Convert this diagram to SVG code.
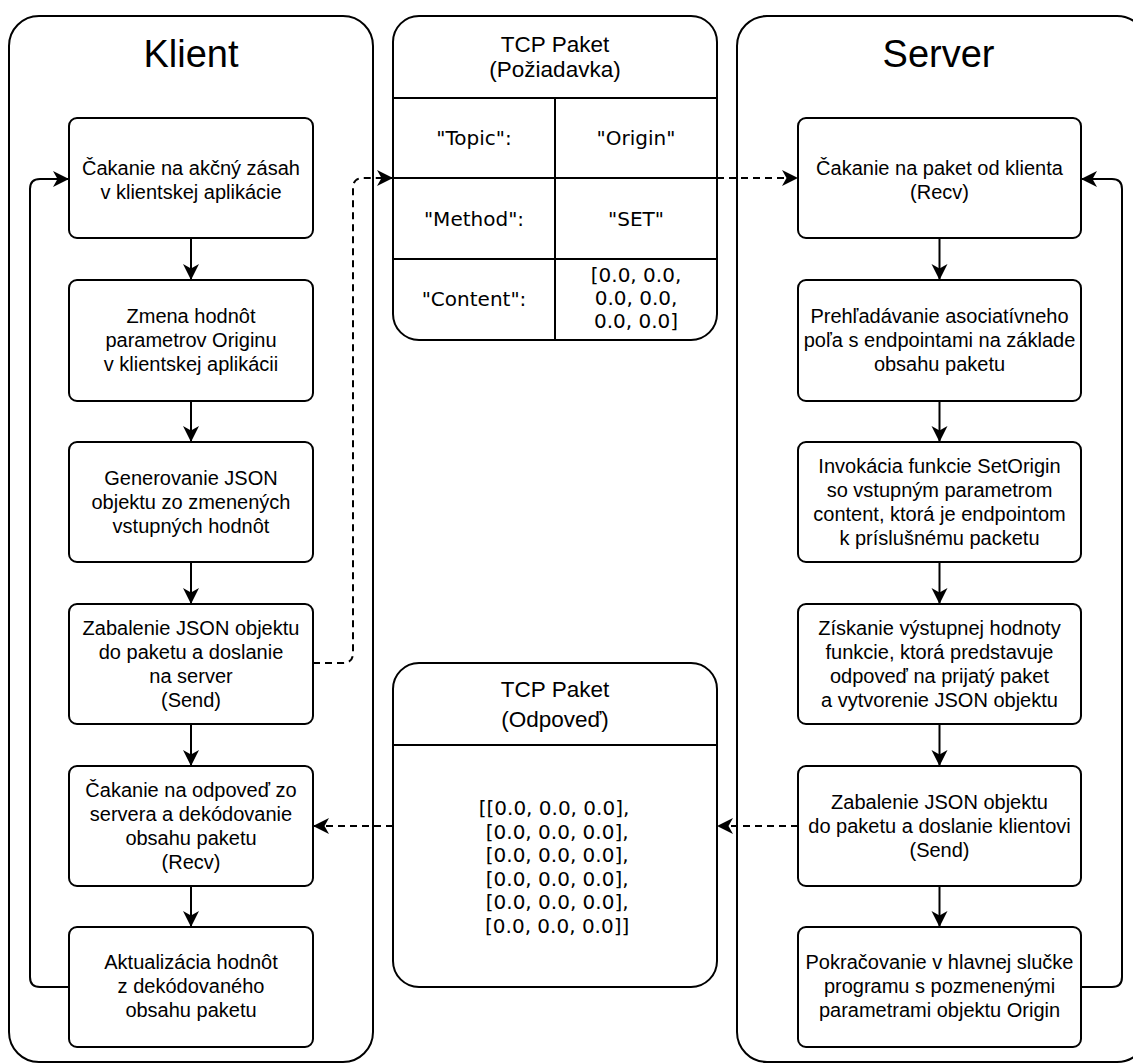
<svg xmlns="http://www.w3.org/2000/svg" width="1133" height="1064" viewBox="0 0 1133 1064">
<style>
  .cont { fill: #ffffff; stroke: #000000; stroke-width: 2; }
  .node { fill: #ffffff; stroke: #000000; stroke-width: 2; }
  .line { fill: none; stroke: #000000; stroke-width: 2; }
  .edge { fill: none; stroke: #000000; stroke-width: 2; marker-end: url(#arrow); }
  .dash { stroke-dasharray: 7 5; }
  .t { font-family: "Liberation Sans", Arial, Helvetica, sans-serif; font-size: 20px; fill: #000000; text-anchor: middle; }
  .title { font-family: "Liberation Sans", Arial, Helvetica, sans-serif; font-size: 38px; fill: #000000; text-anchor: middle; }
  .hdr { font-family: "Liberation Sans", Arial, Helvetica, sans-serif; font-size: 22.5px; fill: #000000; text-anchor: middle; }
  .c { font-family: "DejaVu Sans", Verdana, sans-serif; font-size: 20px; fill: #000000; text-anchor: middle; white-space: pre; }
</style>
<defs>
  <marker id="arrow" markerUnits="userSpaceOnUse" markerWidth="17" markerHeight="17" refX="16" refY="8" orient="auto">
    <path d="M0,0 L16,8 L0,16 L4.5,8 Z" fill="#000000" stroke="none"/>
  </marker>
</defs>
<rect width="1133" height="1064" fill="#ffffff"/>

<g id="klient">
  <rect class="cont" x="9" y="16" width="364" height="1046" rx="30" ry="30"/>
  <text class="title" x="191" y="67">Klient</text>
</g>
<g id="server">
  <rect class="cont" x="737" y="16" width="410" height="1046" rx="30" ry="30"/>
  <text class="title" x="938.5" y="67">Server</text>
</g>

<g id="connectors">
  <path class="edge" d="M191,238 L191,280"/>
  <path class="edge" d="M191,401 L191,442"/>
  <path class="edge" d="M191,562 L191,604"/>
  <path class="edge" d="M191,724 L191,766"/>
  <path class="edge" d="M191,886 L191,927"/>
  <path class="edge" d="M69,987 L40,987 Q30,987 30,977 L30,189 Q30,179 40,179 L69,179"/>
  <path class="edge" d="M939.5,238 L939.5,280"/>
  <path class="edge" d="M939.5,401 L939.5,442"/>
  <path class="edge" d="M939.5,562 L939.5,604"/>
  <path class="edge" d="M939.5,724 L939.5,766"/>
  <path class="edge" d="M939.5,886 L939.5,927"/>
  <path class="edge" d="M1081,987 L1112,987 Q1122,987 1122,977 L1122,189 Q1122,179 1112,179 L1081,179"/>
  <path class="edge dash" d="M313,663 L343,663 Q353,663 353,653 L353,188 Q353,178 363,178 L393,178"/>
  <path class="edge dash" d="M717,178 L798,178"/>
  <path class="edge dash" d="M798,826 L717,826"/>
  <path class="edge dash" d="M393,826 L313,826"/>
</g>

<g id="k1">
  <rect class="node" x="69" y="118" width="244" height="120" rx="8" ry="8"/>
  <text class="t" x="191" y="175">Čakanie na akčný zásah</text>
  <text class="t" x="191" y="199">v klientskej aplikácie</text>
</g>
<g id="k2">
  <rect class="node" x="69" y="280" width="244" height="121" rx="8" ry="8"/>
  <text class="t" x="191" y="323">Zmena hodnôt</text>
  <text class="t" x="191" y="347">parametrov Originu</text>
  <text class="t" x="191" y="371">v klientskej aplikácii</text>
</g>
<g id="k3">
  <rect class="node" x="69" y="442" width="244" height="120" rx="8" ry="8"/>
  <text class="t" x="191" y="485">Generovanie JSON</text>
  <text class="t" x="191" y="509">objektu zo zmenených</text>
  <text class="t" x="191" y="533">vstupných hodnôt</text>
</g>
<g id="k4">
  <rect class="node" x="69" y="604" width="244" height="120" rx="8" ry="8"/>
  <text class="t" x="191" y="635">Zabalenie JSON objektu</text>
  <text class="t" x="191" y="659">do paketu a doslanie</text>
  <text class="t" x="191" y="683">na server</text>
  <text class="t" x="191" y="707">(Send)</text>
</g>
<g id="k5">
  <rect class="node" x="69" y="766" width="244" height="120" rx="8" ry="8"/>
  <text class="t" x="191" y="797">Čakanie na odpoveď zo</text>
  <text class="t" x="191" y="821">servera a dekódovanie</text>
  <text class="t" x="191" y="845">obsahu paketu</text>
  <text class="t" x="191" y="869">(Recv)</text>
</g>
<g id="k6">
  <rect class="node" x="69" y="927" width="244" height="120" rx="8" ry="8"/>
  <text class="t" x="191" y="969">Aktualizácia hodnôt</text>
  <text class="t" x="191" y="993">z dekódovaného</text>
  <text class="t" x="191" y="1017">obsahu paketu</text>
</g>

<g id="s1">
  <rect class="node" x="798" y="118" width="283" height="120" rx="8" ry="8"/>
  <text class="t" x="939.5" y="175">Čakanie na paket od klienta</text>
  <text class="t" x="939.5" y="199">(Recv)</text>
</g>
<g id="s2">
  <rect class="node" x="798" y="280" width="283" height="121" rx="8" ry="8"/>
  <text class="t" x="939.5" y="323">Prehľadávanie asociatívneho</text>
  <text class="t" x="939.5" y="347">poľa s endpointami na základe</text>
  <text class="t" x="939.5" y="371">obsahu paketu</text>
</g>
<g id="s3">
  <rect class="node" x="798" y="442" width="283" height="120" rx="8" ry="8"/>
  <text class="t" x="939.5" y="473">Invokácia funkcie SetOrigin</text>
  <text class="t" x="939.5" y="497">so vstupným parametrom</text>
  <text class="t" x="939.5" y="521">content, ktorá je endpointom</text>
  <text class="t" x="939.5" y="545">k príslušnému packetu</text>
</g>
<g id="s4">
  <rect class="node" x="798" y="604" width="283" height="120" rx="8" ry="8"/>
  <text class="t" x="939.5" y="635">Získanie výstupnej hodnoty</text>
  <text class="t" x="939.5" y="659">funkcie, ktorá predstavuje</text>
  <text class="t" x="939.5" y="683">odpoveď na prijatý paket</text>
  <text class="t" x="939.5" y="707">a vytvorenie JSON objektu</text>
</g>
<g id="s5">
  <rect class="node" x="798" y="766" width="283" height="120" rx="8" ry="8"/>
  <text class="t" x="939.5" y="809">Zabalenie JSON objektu</text>
  <text class="t" x="939.5" y="833">do paketu a doslanie klientovi</text>
  <text class="t" x="939.5" y="857">(Send)</text>
</g>
<g id="s6">
  <rect class="node" x="798" y="927" width="283" height="120" rx="8" ry="8"/>
  <text class="t" x="939.5" y="969">Pokračovanie v hlavnej slučke</text>
  <text class="t" x="939.5" y="993">programu s pozmenenými</text>
  <text class="t" x="939.5" y="1017">parametrami objektu Origin</text>
</g>

<g id="tcp-poziadavka">
  <rect class="node" x="393" y="16" width="324" height="324" rx="26" ry="26"/>
  <path class="line" d="M393,98 L717,98 M393,178 L717,178 M393,259 L717,259 M555,98 L555,340"/>
  <text class="hdr" x="555" y="52">TCP Paket</text>
  <text class="hdr" x="555" y="77">(Požiadavka)</text>
  <text class="c" x="474" y="145">"Topic":</text>
  <text class="c" x="636" y="145">"Origin"</text>
  <text class="c" x="474" y="226">"Method":</text>
  <text class="c" x="636" y="226">"SET"</text>
  <text class="c" x="474" y="306">"Content":</text>
  <text class="c" x="636" y="282">[0.0, 0.0,</text>
  <text class="c" x="636" y="305">0.0, 0.0,</text>
  <text class="c" x="636" y="328">0.0, 0.0]</text>
</g>

<g id="tcp-odpoved">
  <rect class="node" x="393" y="663" width="324" height="324" rx="26" ry="26"/>
  <path class="line" d="M393,745 L717,745"/>
  <text class="hdr" x="555" y="697">TCP Paket</text>
  <text class="hdr" x="555" y="727">(Odpoveď)</text>
  <text class="c" x="554" y="815" xml:space="preserve">[[0.0, 0.0, 0.0],</text>
  <text class="c" x="554" y="838.6" xml:space="preserve"> [0.0, 0.0, 0.0],</text>
  <text class="c" x="554" y="862.2" xml:space="preserve"> [0.0, 0.0, 0.0],</text>
  <text class="c" x="554" y="885.8" xml:space="preserve"> [0.0, 0.0, 0.0],</text>
  <text class="c" x="554" y="909.4" xml:space="preserve"> [0.0, 0.0, 0.0],</text>
  <text class="c" x="554" y="933" xml:space="preserve"> [0.0, 0.0, 0.0]]</text>
</g>
</svg>
